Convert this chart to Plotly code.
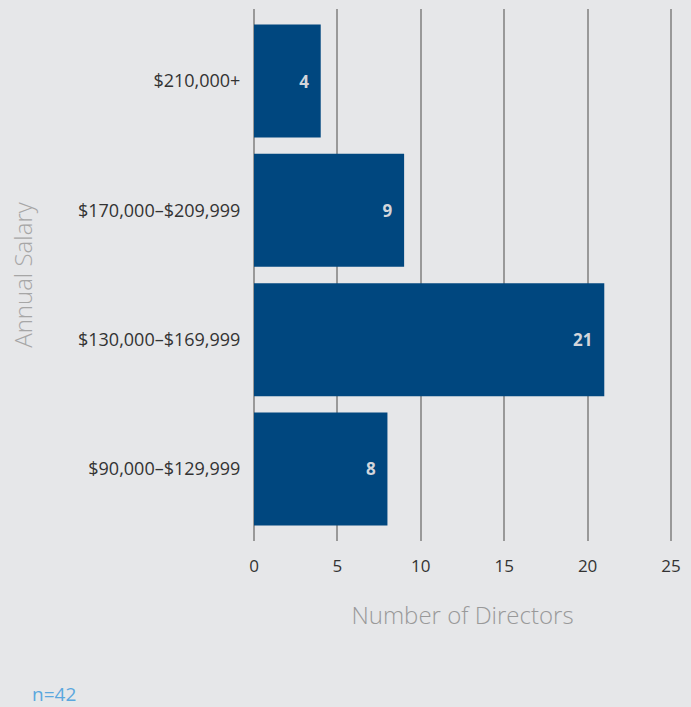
import plotly.graph_objects as go

# Salary bands (bottom to top) and number of directors in each
salary_bands = ["$90,000–$129,999", "$130,000–$169,999", "$170,000–$209,999", "$210,000+"]
directors = [8, 21, 9, 4]
x_ticks = [0, 5, 10, 15, 20, 25]
sample_note = "n=42"

BG = "#e6e7e9"
BAR = "#00477f"
FONT = "Open Sans"

X_MIN, X_MAX = -0.12, 25.12
LEFT, RIGHT, TOP, BOTTOM = 252, 18, 9, 166

fig = go.Figure(
    go.Bar(
        x=directors,
        y=salary_bands,
        orientation="h",
        marker=dict(color=BAR, line=dict(width=0)),
        text=[f"{v}\u00a0\u00a0" for v in directors],
        textposition="inside",
        insidetextanchor="end",
        constraintext="none",
        textangle=0,
        textfont=dict(family=FONT, size=17, color="#d3d6db", weight="bold"),
        hoverinfo="skip",
    )
)

fig.update_layout(
    width=691,
    height=707,
    paper_bgcolor=BG,
    plot_bgcolor=BG,
    margin=dict(l=LEFT, r=RIGHT, t=TOP, b=BOTTOM),
    bargap=0.126,
    showlegend=False,
    font=dict(family=FONT),
    xaxis=dict(
        range=[X_MIN, X_MAX],
        tickvals=x_ticks,
        showgrid=True,
        gridcolor="#999999",
        gridwidth=1.5,
        zeroline=False,
        showline=False,
        ticks="outside",
        ticklen=10,
        tickcolor=BG,
        tickfont=dict(family=FONT, size=17, color="#333333"),
        title=dict(
            text="Number of Directors",
            font=dict(family=FONT, size=24, color="#999999", weight=300),
            standoff=30,
        ),
    ),
    yaxis=dict(
        type="category",
        range=[-0.557, 3.557],
        showgrid=False,
        zeroline=False,
        showline=False,
        ticks="outside",
        ticklen=7,
        tickcolor=BG,
        tickfont=dict(family=FONT, size=18, color="#333333"),
        title=dict(
            text="Annual Salary",
            font=dict(family=FONT, size=24, color="#a6a6a6", weight=300),
            standoff=38,
        ),
    ),
    annotations=[
        dict(
            text=sample_note,
            xref="paper",
            yref="paper",
            x=0,
            y=-(694 - (707 - BOTTOM)) / (707 - TOP - BOTTOM),
            xanchor="left",
            yanchor="middle",
            xshift=-LEFT + 30,
            showarrow=False,
            font=dict(family=FONT, size=19, color="#5ba7de"),
        )
    ],
)

# Keep grid lines drawn behind the bars
fig.update_layout(xaxis_layer="below traces")

fig.write_html("out.html")
